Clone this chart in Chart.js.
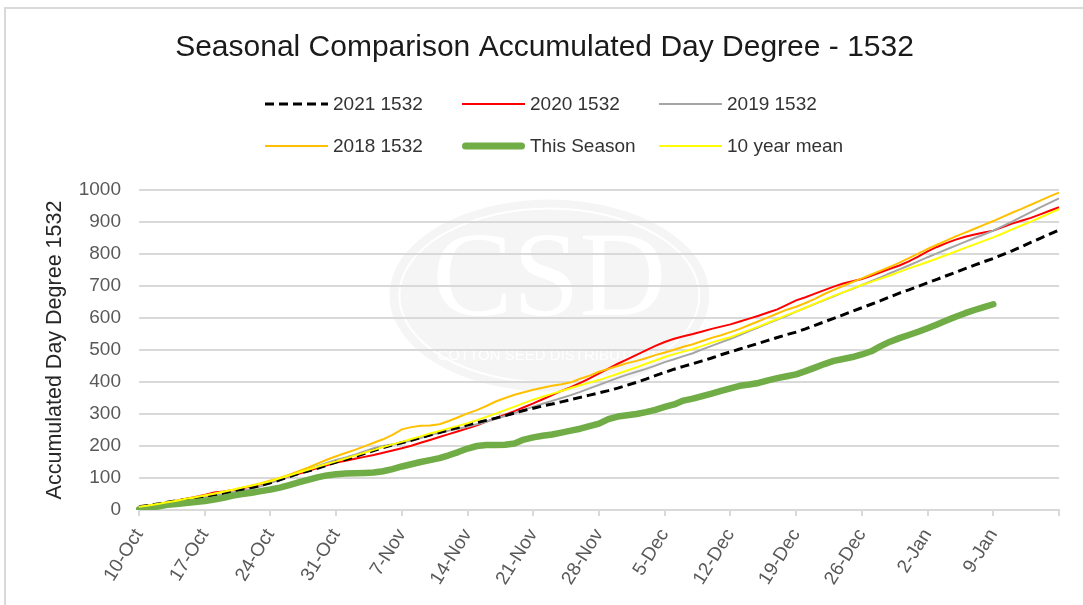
<!DOCTYPE html>
<html>
<head>
<meta charset="utf-8">
<script src="https://cdn.jsdelivr.net/npm/chart.js@4.4.1/dist/chart.umd.min.js"></script>
<style>
body { margin: 0; background: #fff; font-family: "Liberation Sans", Arial, sans-serif; }
#wrap { position: relative; width: 1083px; height: 605px; overflow: hidden; }
#frame { position: absolute; left: 4px; top: 7px; width: 1100px; height: 620px; border: 2px solid #d9d9d9; }
#chart { position: absolute; left: 0; top: 0; }
#legend { position: absolute; left: 0; top: 0; }
.item { position: absolute; display: flex; align-items: center; height: 24px; font-size: 19px; color: #333; white-space: nowrap; }
.item svg { margin-right: 5px; }
</style>
</head>
<body>
<div id="wrap">
  <div id="frame"></div>
  <canvas id="chart" width="1083" height="605"></canvas>
  <div id="legend"></div>
</div>
<script>
// one label per day, 10-Oct .. 16-Jan
const dayLabels = [
  '10-Oct','11-Oct','12-Oct','13-Oct','14-Oct','15-Oct','16-Oct','17-Oct','18-Oct','19-Oct','20-Oct',
  '21-Oct','22-Oct','23-Oct','24-Oct','25-Oct','26-Oct','27-Oct','28-Oct','29-Oct','30-Oct','31-Oct',
  '1-Nov','2-Nov','3-Nov','4-Nov','5-Nov','6-Nov','7-Nov','8-Nov','9-Nov','10-Nov','11-Nov','12-Nov',
  '13-Nov','14-Nov','15-Nov','16-Nov','17-Nov','18-Nov','19-Nov','20-Nov','21-Nov','22-Nov','23-Nov',
  '24-Nov','25-Nov','26-Nov','27-Nov','28-Nov','29-Nov','30-Nov',
  '1-Dec','2-Dec','3-Dec','4-Dec','5-Dec','6-Dec','7-Dec','8-Dec','9-Dec','10-Dec','11-Dec','12-Dec',
  '13-Dec','14-Dec','15-Dec','16-Dec','17-Dec','18-Dec','19-Dec','20-Dec','21-Dec','22-Dec','23-Dec',
  '24-Dec','25-Dec','26-Dec','27-Dec','28-Dec','29-Dec','30-Dec','31-Dec',
  '1-Jan','2-Jan','3-Jan','4-Jan','5-Jan','6-Jan','7-Jan','8-Jan','9-Jan','10-Jan','11-Jan','12-Jan',
  '13-Jan','14-Jan','15-Jan','16-Jan'
];

const season2021 = [
  10, 14, 19, 24, 29, 33, 37, 42,
  47, 52, 58, 64, 70, 77, 85,
  94, 104, 114, 122, 130, 140, 150,
  158, 167, 176, 186, 195, 203, 210,
  218, 226, 234, 242, 250, 258, 266,
  273, 280, 287, 295, 303, 311, 318,
  325, 331, 338, 345, 352, 359, 366,
  373, 381, 390, 399, 409, 420, 430,
  440, 449, 457, 466, 475, 485, 494,
  503, 512, 521, 530, 539, 548, 556,
  566, 577, 588, 599, 610, 621, 632,
  643, 654, 666, 678, 688, 699, 710,
  721, 732, 743, 754, 765, 776, 786,
  798, 810, 823, 836, 849, 862, 875
];

const season2020 = [
  8, 13, 18, 24, 29, 35, 41, 47,
  55, 58, 62, 68, 74, 81, 88,
  96, 105, 113, 122, 131, 140, 148,
  154, 160, 166, 172, 179, 186, 193,
  201, 210, 219, 228, 237, 246, 255,
  265, 276, 287, 298, 309, 321, 333,
  346, 359, 372, 384, 397, 411, 427,
  442, 457, 471, 485, 499, 513, 525,
  535, 543, 550, 558, 566, 573, 580,
  589, 598, 607, 617, 627, 641, 655,
  665, 676, 687, 698, 708, 715, 722,
  732, 743, 754, 764, 777, 792, 808,
  822, 834, 845, 854, 861, 867, 873,
  884, 895, 904, 913, 924, 935, 946
];

const season2019 = [
  10, 14, 18, 23, 27, 32, 36, 40,
  45, 50, 55, 60, 66, 74, 84,
  95, 106, 117, 127, 137, 147, 156,
  164, 173, 183, 193, 200, 205, 210,
  217, 225, 234, 241, 248, 254, 260,
  268, 276, 285, 294, 303, 313, 323,
  332, 341, 350, 359, 369, 380, 391,
  402, 413, 423, 432, 441, 451, 462,
  471, 481, 490, 502, 513, 524, 535,
  547, 559, 571, 583, 595, 607, 620,
  632, 644, 656, 668, 680, 691, 703,
  715, 727, 740, 752, 764, 777, 790,
  802, 814, 826, 838, 850, 861, 873,
  887, 901, 916, 931, 946, 960, 974
];

const season2018 = [
  8, 13, 18, 23, 29, 34, 40, 45,
  51, 57, 63, 70, 77, 84, 92,
  100, 110, 121, 132, 145, 157, 168,
  178, 188, 199, 210, 221, 235, 252,
  259, 263, 264, 268, 278, 290, 302,
  312, 325, 339, 350, 360, 368, 376,
  382, 388, 393, 399, 410, 420, 432,
  441, 450, 459, 466, 474, 484, 492,
  501, 510, 518, 528, 538, 546, 556,
  566, 578, 590, 602, 614, 626, 635,
  647, 660, 675, 688, 700, 712, 724,
  736, 748, 760, 773, 787, 801, 816,
  829, 842, 855, 867, 879, 891, 903,
  916, 929, 941, 954, 967, 980, 992
];

// this season stops at 9-Jan
const thisSeason = [
  2, 6, 11, 16, 19, 22, 25, 28,
  33, 38, 45, 50, 54, 59, 64,
  70, 78, 86, 94, 102, 108, 112,
  114, 115, 116, 117, 121, 128, 136,
  143, 150, 156, 162, 171, 181, 192,
  200, 203, 203, 204, 208, 220, 227,
  232, 236, 242, 248, 254, 262, 270,
  284, 292, 296, 300, 306, 313, 322,
  330, 342, 348, 356, 364, 372, 380,
  388, 392, 397, 405, 412, 418, 424,
  434, 445, 456, 466, 472, 478, 486,
  496, 512, 526, 537, 547, 557, 568,
  580, 592, 604, 615, 625, 634, 643
];

const tenYearMean = [
  10, 14, 19, 24, 29, 35, 40, 45,
  51, 57, 63, 70, 76, 83, 90,
  99, 108, 117, 126, 135, 144, 152,
  161, 170, 179, 188, 197, 205, 213,
  222, 230, 239, 247, 255, 263, 271,
  281, 291, 301, 312, 323, 334, 345,
  354, 363, 372, 381, 390, 398, 406,
  416, 426, 436, 446, 457, 467, 478,
  487, 495, 503, 513, 523, 532, 540,
  551, 562, 573, 585, 597, 609, 620,
  632, 645, 657, 669, 680, 692, 703,
  713, 723, 733, 744, 755, 765, 775,
  786, 797, 808, 819, 830, 841, 852,
  864, 877, 889, 901, 914, 927, 940
];

const yTicks = [0, 100, 200, 300, 400, 500, 600, 700, 800, 900, 1000];

const FONT = '"Liberation Sans", Arial, sans-serif';

// faint CSD logo behind the plot, as in the original sheet
const watermark = {
    id: 'watermark',
    beforeDraw(chart) {
        const c = chart.ctx;
        const a = chart.chartArea;
        const cx = a.left + (a.right - a.left) * 0.446;
        const cy = a.top + (a.bottom - a.top) * 0.33;
        c.save();
        c.beginPath();
        c.ellipse(cx, cy, 160, 96, 0, 0, Math.PI * 2);
        c.fillStyle = '#f5f5f5';
        c.fill();
        c.beginPath();
        c.ellipse(cx, cy, 150, 87, 0, 0, Math.PI * 2);
        c.strokeStyle = '#ffffff';
        c.lineWidth = 2;
        c.stroke();
        c.fillStyle = '#ffffff';
        c.textAlign = 'center';
        c.textBaseline = 'middle';
        c.font = '120px "Liberation Serif", serif';
        c.fillText('CSD', cx, cy - 12);
        c.font = '15px ' + FONT;
        c.fillText('COTTON SEED DISTRIBUTORS', cx, cy + 60);
        c.restore();
    }
};

const ctx = document.getElementById('chart').getContext('2d');
const chart = new Chart(ctx, {
    type: 'line',
    plugins: [watermark],
    data: {
        labels: dayLabels,
        datasets: [{
            label: '2021 1532',
            data: season2021,
            borderColor: '#000000',
            borderWidth: 3,
            borderDash: [9, 5],
            order: 3
        }, {
            label: '2020 1532',
            data: season2020,
            borderColor: '#ff0000',
            borderWidth: 2,
            order: 6
        }, {
            label: '2019 1532',
            data: season2019,
            borderColor: '#a5a5a5',
            borderWidth: 2,
            order: 5
        }, {
            label: '2018 1532',
            data: season2018,
            borderColor: '#ffc000',
            borderWidth: 2,
            order: 4
        }, {
            label: 'This Season',
            data: thisSeason,
            borderColor: '#70ad47',
            borderWidth: 6.5,
            borderCapStyle: 'round',
            borderJoinStyle: 'round',
            order: 2
        }, {
            label: '10 year mean',
            data: tenYearMean,
            borderColor: '#ffff00',
            borderWidth: 2,
            order: 1
        }]
    },
    options: {
        responsive: false,
        animation: false,
        devicePixelRatio: 1,
        elements: {
            point: { radius: 0 },
            line: { tension: 0, fill: false }
        },
        layout: {
            padding: { left: 30, right: 24, top: 0, bottom: 0 }
        },
        plugins: {
            legend: { display: false },
            tooltip: { enabled: false },
            title: {
                display: true,
                text: 'Seasonal Comparison Accumulated Day Degree - 1532',
                color: '#1a1a1a',
                font: { family: FONT, size: 30, weight: 'normal' },
                padding: { top: 30, bottom: 124 }
            }
        },
        scales: {
            x: {
                type: 'category',
                offset: false,
                grid: {
                    display: true,
                    drawOnChartArea: false,
                    drawTicks: true,
                    tickLength: 6,
                    color: '#d9d9d9',
                    lineWidth: 2
                },
                border: { display: true, color: '#d9d9d9', width: 2 },
                ticks: {
                    autoSkip: false,
                    minRotation: 58,
                    maxRotation: 58,
                    padding: 9,
                    color: '#595959',
                    font: { family: FONT, size: 19 },
                    callback: function (value, index) {
                        if (index % 7 !== 0) return null;
                        return index < dayLabels.length - 1 ? dayLabels[index] : '';
                    }
                },
                afterFit: function (scale) {
                    scale.height = 95;
                    scale.paddingLeft = 0;
                    scale.paddingRight = 0;
                }
            },
            y: {
                min: 0,
                max: 1000,
                afterBuildTicks: function (scale) {
                    scale.ticks = yTicks.map(v => ({ value: v }));
                },
                grid: { color: '#d9d9d9', lineWidth: 2, drawTicks: false },
                border: { display: false },
                ticks: {
                    padding: 18,
                    color: '#595959',
                    font: { family: FONT, size: 19 },
                    callback: function (value) { return String(value); }
                },
                title: {
                    display: true,
                    text: 'Accumulated Day Degree 1532',
                    color: '#262626',
                    font: { family: FONT, size: 21.5 },
                    padding: { top: 12, bottom: 0 }
                },
                afterFit: function (scale) { scale.width = 109; }
            }
        }
    }
});

// legend laid out like the spreadsheet: three columns, two rows
const legendCols = [265, 462, 659];
const legendRows = [104, 146];
const legendBox = document.getElementById('legend');
chart.data.datasets.forEach(function (ds, i) {
    const item = document.createElement('div');
    item.className = 'item';
    item.style.left = legendCols[i % 3] + 'px';
    item.style.top = (legendRows[Math.floor(i / 3)] - 12) + 'px';
    const round = ds.borderCapStyle === 'round';
    const w = ds.label === 'This Season' ? 7 : ds.borderWidth;
    const dash = ds.borderDash ? ds.borderDash.join(',') : 'none';
    item.innerHTML =
        '<svg width="63" height="12"><line x1="' + (round ? 3.5 : 0) + '" y1="6" x2="' + (round ? 59.5 : 63) +
        '" y2="6" stroke="' + ds.borderColor + '" stroke-width="' + w + '" stroke-dasharray="' + dash +
        '" stroke-linecap="' + (round ? 'round' : 'butt') + '"/></svg><span>' + ds.label + '</span>';
    legendBox.appendChild(item);
});
</script>
</body>
</html>
